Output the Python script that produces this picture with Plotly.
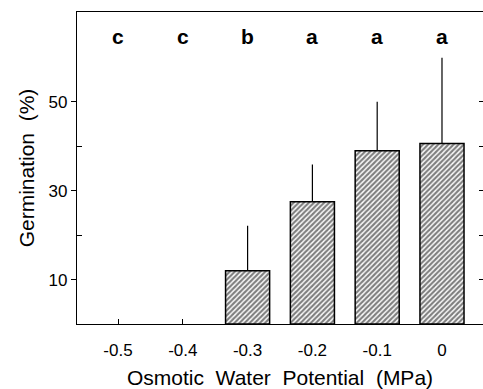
import plotly.graph_objects as go

categories = ["-0.5", "-0.4", "-0.3", "-0.2", "-0.1", "0"]
germination = [0, 0, 12.0, 27.5, 39.0, 40.6]
error_upper = [0, 0, 10.1, 8.4, 11.0, 19.3]
letters = ["c", "c", "b", "a", "a", "a"]
letter_y = 64.6
y_major_ticks = [10, 30, 50]
y_minor_ticks = [20, 40]
y_right_ticks = [10, 20, 30, 40, 50]

FONT = "Liberation Sans, Arial, Helvetica, sans-serif"

line_widths = [1.5 if v > 0 else 0 for v in germination]

fig = go.Figure()
fig.add_trace(go.Bar(
    x=categories, y=germination, width=0.68,
    marker=dict(color="white",
                line=dict(color="black", width=line_widths),
                pattern=dict(shape="/", fgcolor="black", bgcolor="white",
                             size=3.6, solidity=0.62)),
    error_y=dict(type="data", symmetric=False, array=error_upper,
                 arrayminus=[0] * len(error_upper), width=0,
                 thickness=1.2, color="black"),
    showlegend=False, hoverinfo="skip",
))
# invisible trace to anchor the right-hand tick axis
fig.add_trace(go.Scatter(x=[categories[0]], y=[None], yaxis="y2",
                         mode="markers", showlegend=False, hoverinfo="skip"))

for i, t in enumerate(letters):
    fig.add_annotation(x=i, y=letter_y, text=t, showarrow=False,
                       font=dict(family=FONT, size=21, color="black", weight="bold"),
                       xref="x", yref="y")

fig.update_layout(
    width=483, height=389,
    margin=dict(l=77, r=0, t=12, b=65),
    paper_bgcolor="white", plot_bgcolor="white",
    font=dict(family=FONT, color="black"),
    xaxis=dict(
        type="category", range=[-0.633, 5.633],
        showline=True, linecolor="black", linewidth=1.3, mirror=True,
        ticks="inside", ticklen=5, tickcolor="black", tickwidth=1.2,
        tickfont=dict(size=17, family=FONT, color="black"),
        ticklabelstandoff=10,
        showgrid=False, zeroline=False, layer="below traces",
        title=dict(text="Osmotic  Water  Potential  (MPa)",
                   font=dict(size=21, family=FONT, color="black"), standoff=12),
    ),
    yaxis=dict(
        range=[0, 70.2], tickmode="array", tickvals=y_major_ticks,
        ticks="outside", ticklen=5, tickcolor="black", tickwidth=1.2,
        minor=dict(tickmode="array", tickvals=y_minor_ticks, ticks="inside",
                   ticklen=5, tickcolor="black", tickwidth=1.2),
        showline=True, linecolor="black", linewidth=1.3,
        tickfont=dict(size=17, family=FONT, color="black"),
        showgrid=False, zeroline=False,
        title=dict(text="Germination  (%)",
                   font=dict(size=21, family=FONT, color="black"), standoff=8),
    ),
    yaxis2=dict(
        overlaying="y", side="right", range=[0, 70.2],
        tickmode="array", tickvals=y_right_ticks, ticks="inside", ticklen=4,
        tickcolor="black", tickwidth=1.2, showticklabels=False,
        showline=False, showgrid=False, zeroline=False,
    ),
)

fig.write_html("out.html")
